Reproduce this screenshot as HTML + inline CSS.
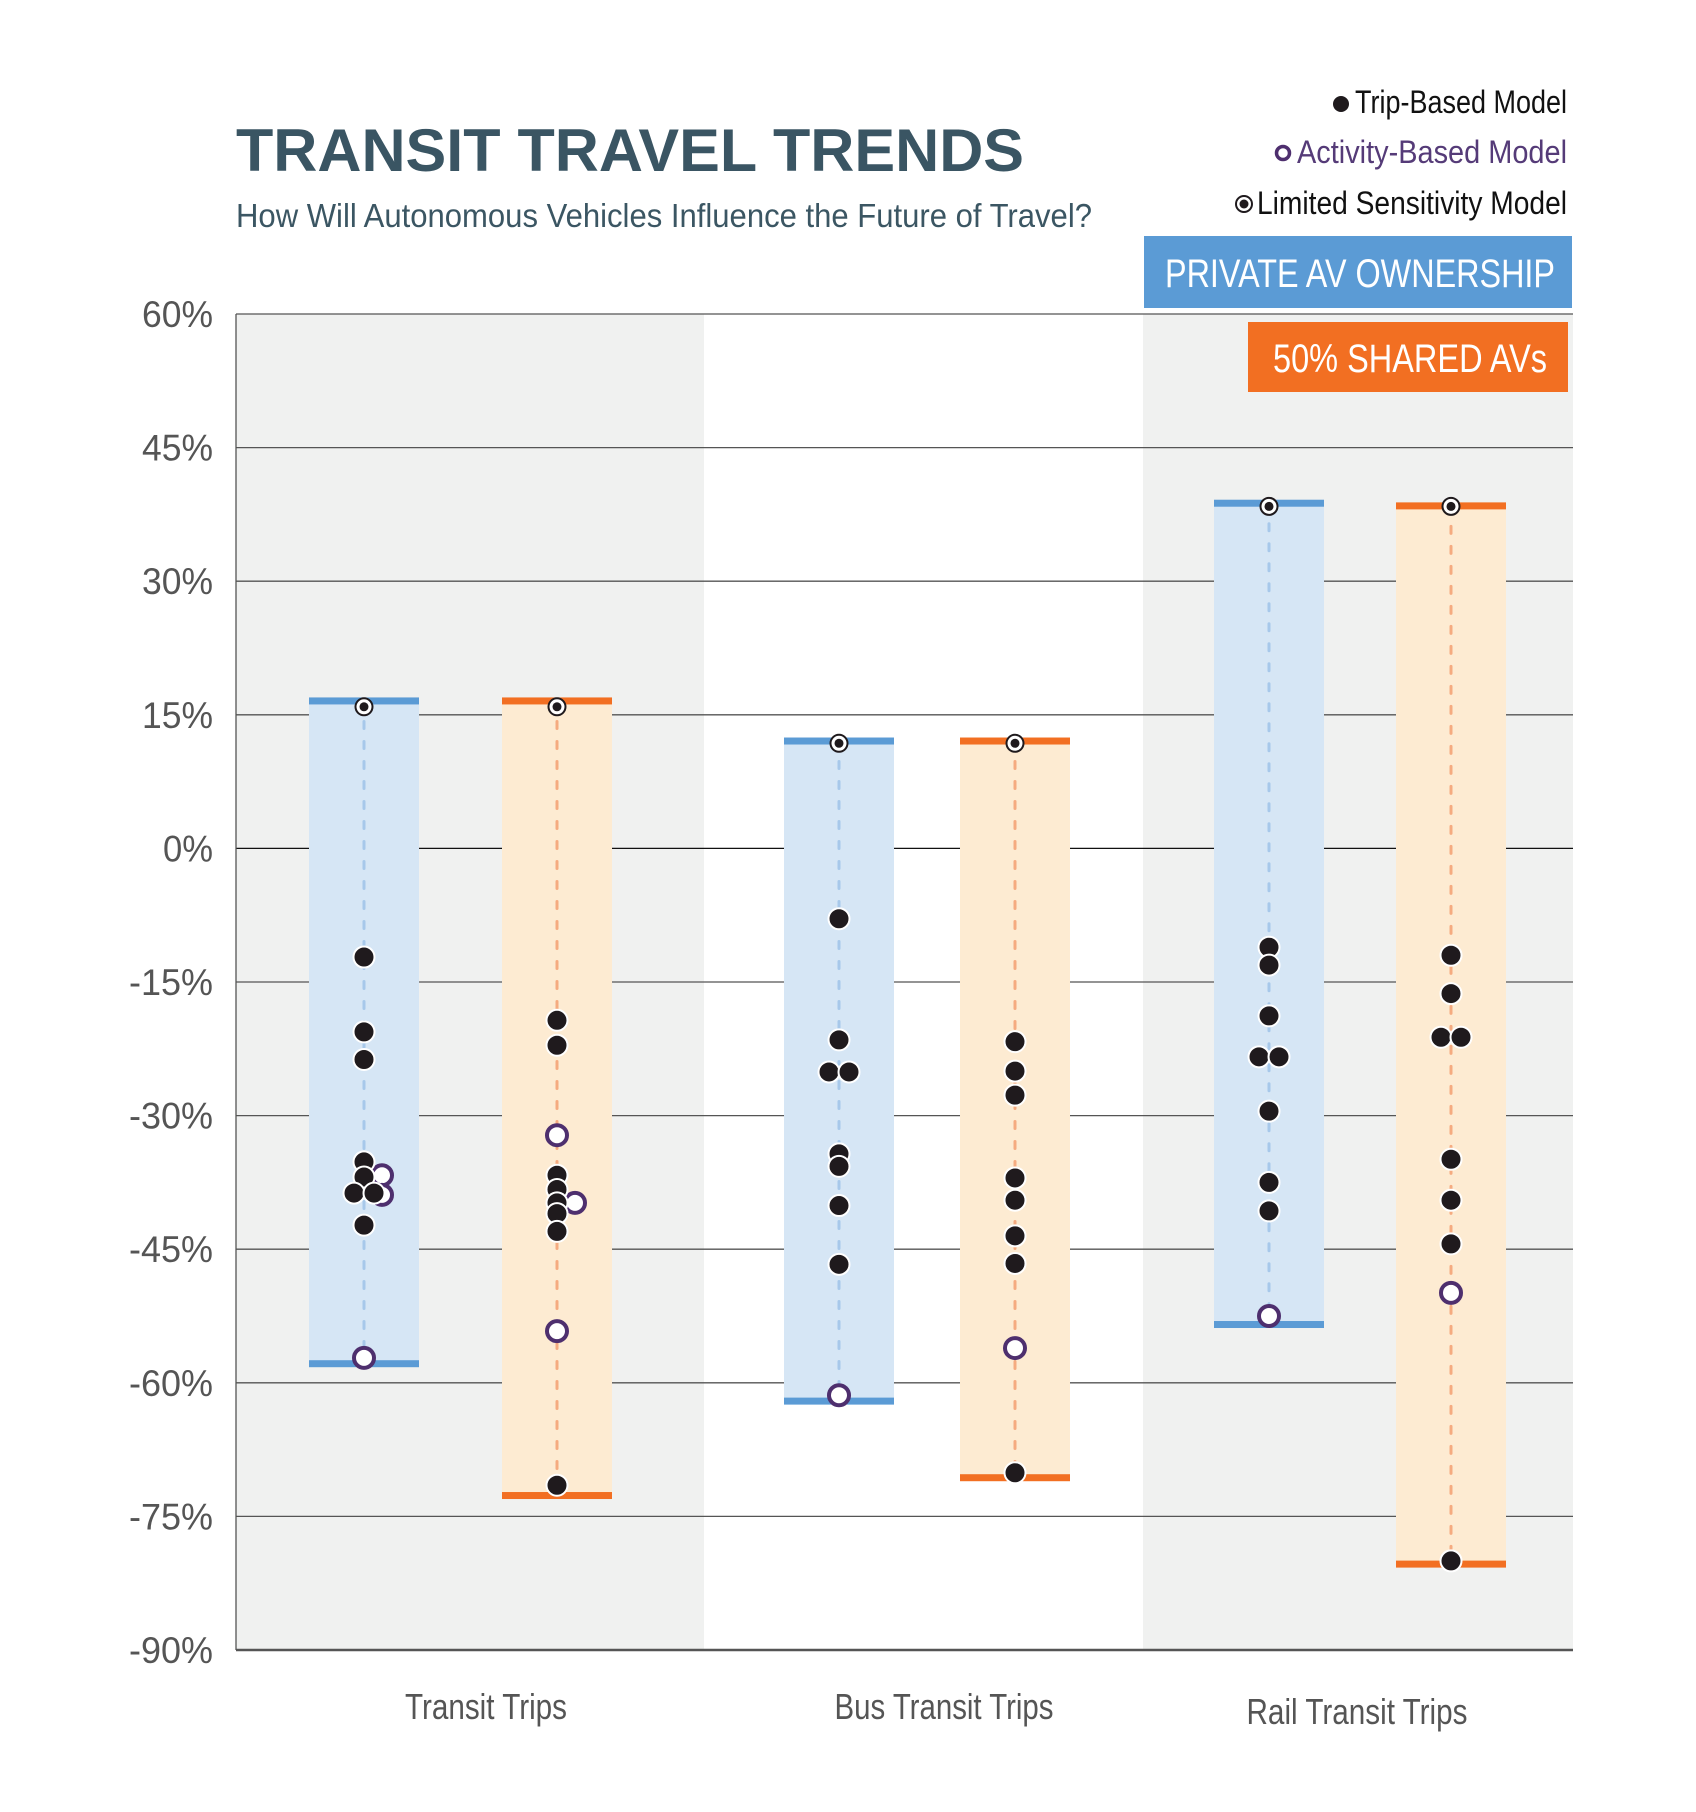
<!DOCTYPE html>
<html><head><meta charset="utf-8"><style>
html,body{margin:0;padding:0;background:#fff;}
svg{display:block;}
text{font-family:"Liberation Sans",sans-serif;}
</style></head>
<body>
<svg id="chart" width="1696" height="1812" viewBox="0 0 1696 1812" xmlns="http://www.w3.org/2000/svg">
<text x="236" y="171" font-size="60" font-weight="bold" fill="#3a5563" textLength="788" lengthAdjust="spacingAndGlyphs">TRANSIT TRAVEL TRENDS</text>
<text x="236" y="227" font-size="33" fill="#3b5663" textLength="856" lengthAdjust="spacingAndGlyphs">How Will Autonomous Vehicles Influence the Future of Travel?</text>

<g>
  <circle cx="1341" cy="104" r="8" fill="#1f1a1d"/>
  <text x="1567" y="113" font-size="32" text-anchor="end" fill="#111" textLength="212" lengthAdjust="spacingAndGlyphs">Trip-Based Model</text>
  <circle cx="1283" cy="153" r="6.5" fill="#fff" stroke="#4e2f6e" stroke-width="3.5"/>
  <text x="1567" y="163" font-size="32" text-anchor="end" fill="#553b78" textLength="270" lengthAdjust="spacingAndGlyphs">Activity-Based Model</text>
  <circle cx="1244" cy="204" r="8" fill="#fff" stroke="#1f1a1d" stroke-width="2"/>
  <circle cx="1244" cy="204" r="4.5" fill="#1f1a1d"/>
  <text x="1567" y="214" font-size="32" text-anchor="end" fill="#111" textLength="310" lengthAdjust="spacingAndGlyphs">Limited Sensitivity Model</text>
</g>

<g id="plot"></g>

<g>
  <rect x="1144" y="236" width="428" height="72" fill="#5b9bd5"/>
  <text x="1360" y="287" font-size="40" fill="#fff" text-anchor="middle" textLength="390" lengthAdjust="spacingAndGlyphs">PRIVATE AV OWNERSHIP</text>
  <rect x="1248" y="322" width="320" height="70" fill="#f26f22"/>
  <text x="1410" y="372" font-size="40" fill="#fff" text-anchor="middle" textLength="274" lengthAdjust="spacingAndGlyphs">50% SHARED AVs</text>
</g>
</svg>
<script>
// ---- data ----
const categories = ["Transit Trips", "Bus Transit Trips", "Rail Transit Trips"];
const yTicks = [60, 45, 30, 15, 0, -15, -30, -45, -60, -75, -90];
const yTickLabels = ["60%", "45%", "30%", "15%", "0%", "-15%", "-30%", "-45%", "-60%", "-75%", "-90%"];
// range bars [top, bottom] per category
const privateRange = [[16.5, -57.8], [12, -62], [38.7, -53.4]];
const sharedRange  = [[16.5, -72.6], [12, -70.6], [38.4, -80.3]];
// limited sensitivity model values
const privateLimited = [15.9, 11.8, 38.4];
const sharedLimited  = [15.9, 11.8, 38.4];
// trip-based model values
const privateTrip = [
  [-12.2, -20.6, -23.7, -35.2, -36.9, -38.7, -38.7, -42.3],
  [-7.9, -21.5, -25.1, -25.1, -34.3, -35.7, -40.1, -46.7],
  [-11.1, -13.1, -18.8, -23.4, -23.4, -29.5, -37.5, -40.7]
];
const sharedTrip = [
  [-19.3, -22.1, -36.7, -38.3, -39.8, -41.0, -43.0, -71.5],
  [-21.7, -25.0, -27.7, -37.0, -39.5, -43.5, -46.6, -70.1],
  [-12.0, -16.3, -21.2, -21.2, -34.9, -39.5, -44.4, -80.0]
];
// activity-based model values
const privateActivity = [[-36.7, -38.9, -57.2], [-61.4], [-52.5]];
const sharedActivity  = [[-32.2, -39.8, -54.2], [-56.1], [-49.9]];

// ---- layout ----
const NS = "http://www.w3.org/2000/svg";
const plotLeft = 236, plotRight = 1573;
const yTop = 314, yBottom = 1650, vMax = 60, vMin = -90;
function y(v){ return yTop + (vMax - v) / (vMax - vMin) * (yBottom - yTop); }
const bandEdges = [236, 704, 1143, 1573];
const barX = [[309, 502], [784, 960], [1214, 1396]];
const barW = 110;
const labelX = [486, 944, 1357];
const plot = document.getElementById('plot');
function mk(tag, attrs, parent){
  const el = document.createElementNS(NS, tag);
  for (const k in attrs) el.setAttribute(k, attrs[k]);
  (parent || plot).appendChild(el);
  return el;
}
function labelWidth(s){
  if (s.length <= 2) return 50;
  return s.charAt(0) === '-' ? 84 : 71;
}
// bands
for (let i = 0; i < 3; i++) {
  const r = mk('rect', {x: bandEdges[i], y: yTop, width: bandEdges[i+1] - bandEdges[i], height: yBottom - yTop, fill: i % 2 === 0 ? '#f0f1f0' : '#ffffff'});
  
  
}
// grid + y labels
yTicks.forEach((t, i) => {
  const l = mk('line', {x1: plotLeft, x2: plotRight, y1: y(t), y2: y(t), stroke: t === 0 ? '#111' : '#555', 'stroke-width': (t === -90) ? 2.5 : 1.3});
  
  
  const tx = mk('text', {x: 213, y: y(t) + 13, 'font-size': 37, 'text-anchor': 'end', fill: '#555', textLength: labelWidth(yTickLabels[i]), lengthAdjust: 'spacingAndGlyphs'});
  tx.textContent = yTickLabels[i];
  
  
});
const ax = mk('line', {x1: plotLeft, x2: plotLeft, y1: yTop, y2: yBottom, stroke: '#555', 'stroke-width': 1.3});



function drawBar(x0, range, fill, cap, dash){
  const top = y(range[0]), bot = y(range[1]);
  const r = mk('rect', {x: x0, y: top, width: barW, height: bot - top, fill: fill});
  
  
  const c1 = mk('rect', {x: x0, y: top - 4, width: barW, height: 7, fill: cap});
  
  
  const c2 = mk('rect', {x: x0, y: bot - 3, width: barW, height: 7, fill: cap});
  
  
  const d = mk('line', {x1: x0 + barW/2, x2: x0 + barW/2, y1: top, y2: bot, stroke: dash, 'stroke-width': 3, 'stroke-dasharray': '7 13', 'stroke-linecap': 'round'});
  
  
}
function jitter(vals){
  const out = vals.map(() => 0);
  for (let i = 0; i < vals.length; i++) {
    for (let j = 0; j < i; j++) {
      if (Math.abs(vals[i] - vals[j]) < 0.3 && out[j] === out[i]) { out[j] = -10; out[i] = 10; }
    }
  }
  return out;
}
function drawTrip(cx, vals){
  const off = jitter(vals);
  vals.forEach((v, i) => {
    const c = mk('circle', {cx: cx + off[i], cy: y(v), r: 10.5, fill: '#1f1a1d', stroke: '#fff', 'stroke-width': 2});
    
    
  });
}
function drawActivity(cx, vals, trip){
  vals.forEach((v) => {
    const near = trip.some(t => Math.abs(t - v) < 3);
    const c = mk('circle', {cx: cx + (near ? 18 : 0), cy: y(v), r: 10, fill: '#fff', stroke: '#4e2f6e', 'stroke-width': 4});
    
    
  });
}
function drawLimited(cx, v){
  const c = mk('circle', {cx: cx, cy: y(v), r: 8.5, fill: '#fff', stroke: '#1f1a1d', 'stroke-width': 2});
  
  
  const d = mk('circle', {cx: cx, cy: y(v), r: 4.5, fill: '#1f1a1d'});
  
  
}
categories.forEach((cat, i) => {
  const px = barX[i][0], sx = barX[i][1];
  drawBar(px, privateRange[i], '#d6e6f5', '#5b9bd5', '#a7c8ea');
  drawBar(sx, sharedRange[i], '#fdebd2', '#f26f22', '#f5ab80');
  drawActivity(px + barW/2, privateActivity[i], privateTrip[i]);
  drawTrip(px + barW/2, privateTrip[i]);
  drawActivity(sx + barW/2, sharedActivity[i], sharedTrip[i]);
  drawTrip(sx + barW/2, sharedTrip[i]);
  drawLimited(px + barW/2, privateLimited[i]);
  drawLimited(sx + barW/2, sharedLimited[i]);
  const t = mk('text', {x: labelX[i], y: 1719 + (i === 2 ? 5 : 0), 'font-size': 36, 'text-anchor': 'middle', fill: '#555'});
  t.textContent = cat;
  
  
  t.setAttribute('textLength', [162, 219, 221][i]);
  t.setAttribute('lengthAdjust', 'spacingAndGlyphs');
});
</script>
</body></html>
